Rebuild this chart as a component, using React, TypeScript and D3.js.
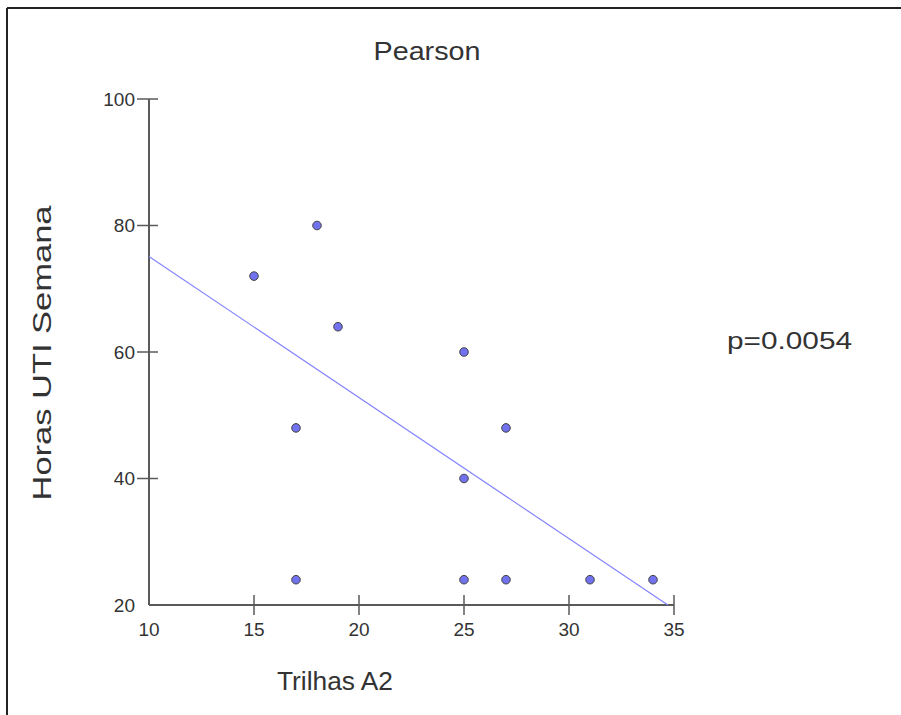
import React from "react";
import * as d3 from "d3";

// Observations: Trilhas A2 (x) vs Horas UTI Semana (y)
const trilhasA2 = [15, 18, 19, 17, 17, 25, 25, 25, 27, 27, 31, 34];
const horasUTI = [72, 80, 64, 48, 24, 60, 40, 24, 48, 24, 24, 24];

// Fitted regression line: y = intercept + slope * x
const fitIntercept = 97.4;
const fitSlope = -2.23;

const xTicks = [10, 15, 20, 25, 30, 35];
const yTicks = [20, 40, 60, 80, 100];

const title = "Pearson";
const xLabel = "Trilhas A2";
const yLabel = "Horas UTI Semana";
const pLabel = "p=0.0054";

const W = 901;
const H = 715;
const FONT = "'Liberation Sans', Arial, sans-serif";

export default function App() {
  const x = d3.scaleLinear().domain([10, 35]).range([149, 674]);
  const y = d3.scaleLinear().domain([20, 100]).range([605, 99]);

  // regression line from x=10 to where it reaches the bottom of the y domain
  const xEnd = Math.min(35, (20 - fitIntercept) / fitSlope);
  const fitPts: [number, number][] = [
    [10, fitIntercept + fitSlope * 10],
    [xEnd, fitIntercept + fitSlope * xEnd],
  ];
  const line = d3
    .line<[number, number]>()
    .x((d) => x(d[0]))
    .y((d) => y(d[1]));

  const axisColor = "#5a5a5a";
  const textColor = "#333";

  return (
    <svg
      width={W}
      height={H}
      style={{ position: "absolute", left: 0, top: 0, display: "block", background: "#fff" }}
    >
      <rect x={0} y={0} width={W} height={H} fill="#fff" />
      {/* frame */}
      <line x1={7} y1={8} x2={W} y2={8} stroke="#222" strokeWidth={2} />
      <line x1={7} y1={8} x2={7} y2={H} stroke="#222" strokeWidth={2} />

      <text x={427} y={60} fontFamily={FONT} fontSize={25} fill={textColor} textAnchor="middle"
        textLength={107} lengthAdjust="spacingAndGlyphs">
        {title}
      </text>

      {/* axes */}
      <line x1={x(10)} y1={y(20)} x2={x(10)} y2={y(100)} stroke={axisColor} strokeWidth={2} />
      <line x1={x(10)} y1={y(20)} x2={x(35)} y2={y(20)} stroke={axisColor} strokeWidth={2} />

      {yTicks.map((t) => (
        <g key={"y" + t}>
          {t !== 20 && (
            <line x1={x(10) - 12} x2={x(10) + 9} y1={y(t)} y2={y(t)} stroke={axisColor} strokeWidth={1.5} />
          )}
          <text x={135} y={y(t) + 6.7} fontFamily={FONT} fontSize={19} fill={textColor} textAnchor="end">
            {t}
          </text>
        </g>
      ))}

      {xTicks.map((t) => (
        <g key={"x" + t}>
          {t !== 10 && (
            <line x1={x(t)} x2={x(t)} y1={y(20) - 10} y2={y(20) + 10} stroke={axisColor} strokeWidth={1.5} />
          )}
          <text x={x(t)} y={636} fontFamily={FONT} fontSize={19} fill={textColor} textAnchor="middle">
            {t}
          </text>
        </g>
      ))}

      <path d={line(fitPts) || ""} fill="none" stroke="#8484ff" strokeWidth={1.2} />

      {trilhasA2.map((v, i) => (
        <circle key={i} cx={x(v)} cy={y(horasUTI[i])} r={4.3} fill="#7272ee" stroke="#444" strokeWidth={1} />
      ))}

      <text x={335} y={690} fontFamily={FONT} fontSize={25} fill={textColor} textAnchor="middle"
        textLength={116} lengthAdjust="spacingAndGlyphs">
        {xLabel}
      </text>

      <text
        transform="translate(51,353) rotate(-90)"
        fontFamily={FONT}
        fontSize={26}
        fill={textColor}
        textAnchor="middle"
        textLength={295}
        lengthAdjust="spacingAndGlyphs"
      >
        {yLabel}
      </text>

      <text x={727} y={349} fontFamily={FONT} fontSize={23} fill={textColor}
        textLength={125} lengthAdjust="spacingAndGlyphs">
        {pLabel}
      </text>
    </svg>
  );
}
